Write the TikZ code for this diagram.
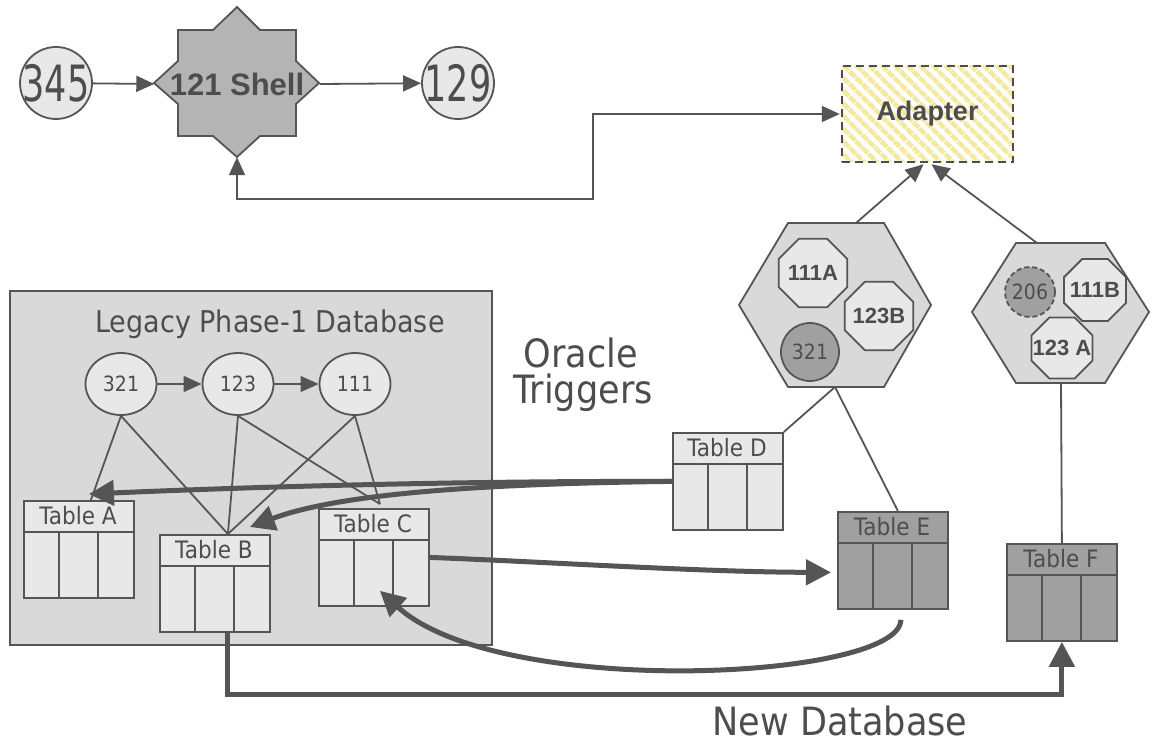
\documentclass[tikz,border=0pt]{standalone}
\usepackage{fontspec}
\setmainfont{DejaVu Sans}[FakeStretch=0.9]
\newfontfamily\narrowf{DejaVu Sans}[FakeStretch=0.7]
\newfontfamily\arialf{Liberation Sans}[BoldFont={Liberation Sans Bold}]
\usetikzlibrary{arrows.meta,shapes.geometric,patterns.meta,calc}
\definecolor{lc}{HTML}{555555}
\definecolor{tc}{HTML}{4D4D4D}
\definecolor{lightf}{HTML}{E8E8E8}
\definecolor{midf}{HTML}{D9D9D9}
\definecolor{darkf}{HTML}{A0A0A0}
\definecolor{shellf}{HTML}{B4B4B4}
\definecolor{stripe}{HTML}{F4E9A0}
\newcommand\fs[1]{\fontsize{#1}{#1}\selectfont}
\newcommand\zw[1]{\makebox[0pt]{#1}}
\newcommand\dbtab[5]{%
  \node[draw=lc,line width=1.8pt,fill=#4,minimum width=110pt,minimum height=97pt,inner sep=0pt,anchor=north west] (#1) at (#2,#3) {};
  \draw[ln] (#2,#3+32) -- (#2+110,#3+32);
  \draw[ln] (#2+36,#3+32) -- (#2+36,#3+97);
  \draw[ln] (#2+75,#3+32) -- (#2+75,#3+97);
  \node[tabtext] (#1-label) at (#2+55,#3+16) {#5};
}
\begin{document}
\begin{tikzpicture}[x=1pt,y=-1pt,
  ln/.style={draw=lc,line width=1.8pt},
  tarr/.style={ln,-{Triangle[length=18pt,width=16pt]}},
  barr/.style={draw=lc,line width=5pt,-{Triangle[length=25pt,width=25pt]}},
  lbl/.style={text=tc,inner sep=0pt},
  tabtext/.style={lbl,font=\fs{24}},
  octa/.style={regular polygon,regular polygon sides=8,draw=lc,line width=1.8pt,fill=lightf,inner sep=0pt,text=tc,font=\arialf\bfseries\fs{22}},
  circ/.style={circle,draw=lc,line width=1.8pt,inner sep=0pt,text=tc},
  ell/.style={ellipse,draw=lc,line width=1.8pt,fill=lightf,minimum width=71pt,minimum height=62pt,inner sep=0pt,text=tc,font=\fs{21}},
]
\useasboundingbox[fill=white] (0,0) rectangle (1152,749);

% --- top row
\filldraw[ln,fill=shellf] (237,7) -- (260,30) -- (296,30) -- (296,61) -- (319,83) -- (296,104) -- (296,136) -- (260,136) -- (237,157) -- (213,136) -- (178,136) -- (178,104) -- (154,83) -- (178,61) -- (178,30) -- (213,30) -- cycle;
\node[lbl,font=\arialf\bfseries\fs{31},minimum width=165pt,minimum height=146pt] (shell) at (237,84) {121 Shell};
\node[circ,fill=lightf,minimum size=72pt,font=\narrowf\fs{50}] (c345) at (56,83) {\zw{345}};
\node[circ,fill=lightf,minimum size=72pt,font=\narrowf\fs{50}] (c129) at (458,83) {\zw{129}};
\draw[tarr] (c345) -- (shell.west);
\draw[tarr] (shell.east) -- (c129);

\node[draw=tc,dash pattern=on 8pt off 5pt,line width=2.2pt,minimum width=171pt,minimum height=96pt,inner sep=0pt,
  pattern={Lines[angle=-45,distance=9pt,line width=4.5pt]},pattern color=stripe,text=tc,font=\arialf\bfseries\fs{27}] (adapter) at (927.5,114) {Adapter};
\draw[ln,{Triangle[length=18pt,width=16pt]}-{Triangle[length=18pt,width=16pt]}] (shell.south) |- (593,199) |- (adapter.west);

% --- hexagons
\filldraw[ln,fill=midf] (788,223) -- (884,223) -- (931,305) -- (884,387) -- (788,387) -- (739,305) -- cycle;
\filldraw[ln,fill=midf] (1016,243) -- (1105,243) -- (1149,312) -- (1105,383) -- (1016,383) -- (972,312) -- cycle;
\coordinate (h1top) at (856,223);
\coordinate (h1bot) at (835,387);
\coordinate (h2top) at (1037,243);
\coordinate (h2bot) at (1061,383);
\node[octa,minimum size=74pt] (o111A) at (813,273) {\zw{111A}};
\node[octa,minimum size=74pt] (o123B) at (879,316) {\zw{123B}};
\node[circ,fill=darkf,minimum size=58pt,font=\fs{21}] (c321h) at (810,352) {321};
\node[circ,fill=darkf,dash pattern=on 5pt off 3pt,minimum size=50pt,font=\fs{21}] (c206) at (1030,292) {\zw{206}};
\node[octa,minimum size=67pt] (o111B) at (1095,290) {\zw{111B}};
\node[octa,minimum size=66pt] (o123A) at (1062,348) {\zw{123 A}};
\draw[tarr] (h1top) -- ($(adapter.south)+(-4,0)$);
\draw[tarr] (h2top) -- ($(adapter.south)+(4,0)$);

% --- legacy database
\node[draw=lc,fill=midf,line width=1.8pt,minimum width=482pt,minimum height=354pt,inner sep=0pt,anchor=north west] (legacy) at (9,290) {};
\node[lbl,font=\fs{30},anchor=base] (legtitle) at (270,332) {Legacy Phase-1 Database};
\node[ell] (e321) at (121,384) {321};
\node[ell] (e123) at (238,384) {123};
\node[ell] (e111) at (355,384) {111};
\draw[tarr] (e321) -- (e123);
\draw[ln,line width=1.1pt,-{Triangle[length=18pt,width=16pt]}] (e123) -- (e111);

% --- tables
\dbtab{tA}{23}{500}{lightf}{Table A}
\dbtab{tB}{159}{534}{lightf}{Table B}
\dbtab{tC}{318}{508}{lightf}{Table C}
\dbtab{tD}{672}{432}{lightf}{Table D}
\dbtab{tE}{837}{511}{darkf}{Table E}
\dbtab{tF}{1006}{543}{darkf}{Table F}

\coordinate (pA) at ($(tA.north)+(12,0)$);
\coordinate (pB) at ($(tB.north)+(13,0)$);
\coordinate (pC) at ($(tC.north)+(6,-4)$);
\draw[ln] (e321.south) -- (pA);
\draw[ln] (e321.south) -- (pB);
\draw[ln] (e123.south) -- (pB);
\draw[ln] (e123.south) -- (pC);
\draw[ln] (e111.south) -- (pB);
\draw[ln] (e111.south) -- (pC);

\draw[ln] (h1bot) -- (tD.north east);
\draw[ln] (h1bot) -- ($(tE.north)+(5,0)$);
\draw[ln] (h2bot) -- (tF.north);

% --- thick arrows
\draw[barr] (tD.west) .. controls (450,481) and (250,487) .. ($(tA.north)+(10,-6)$);
\draw[barr] (tD.west) .. controls (450,484) and (330,497) .. ($(tB.north)+(35,-7)$);
\draw[barr] (tC.east) .. controls (550,562) and (700,572) .. ($(tE.west)+(-6,12)$);
\draw[barr] ($(tE.south)+(8,10)$) .. controls (900,680) and (500,700) .. ($(tC.south)+(6,-16)$);
\coordinate (bstart) at ($(tB.south)+(13,0)$);
\coordinate (bcorner) at ($(tB.south)+(13,62)$);
\draw[barr] (bstart) -- (bcorner) -| (tF.south);

% --- free labels
\node[lbl,font=\fs{39},anchor=base] (oracle) at (581,367) {Oracle};
\node[lbl,font=\fs{39},anchor=base] (trig) at (583,403) {Triggers};
\node[lbl,font=\fs{39},anchor=base] (newdb) at (840,735) {New Database};
\end{tikzpicture}
\end{document}
